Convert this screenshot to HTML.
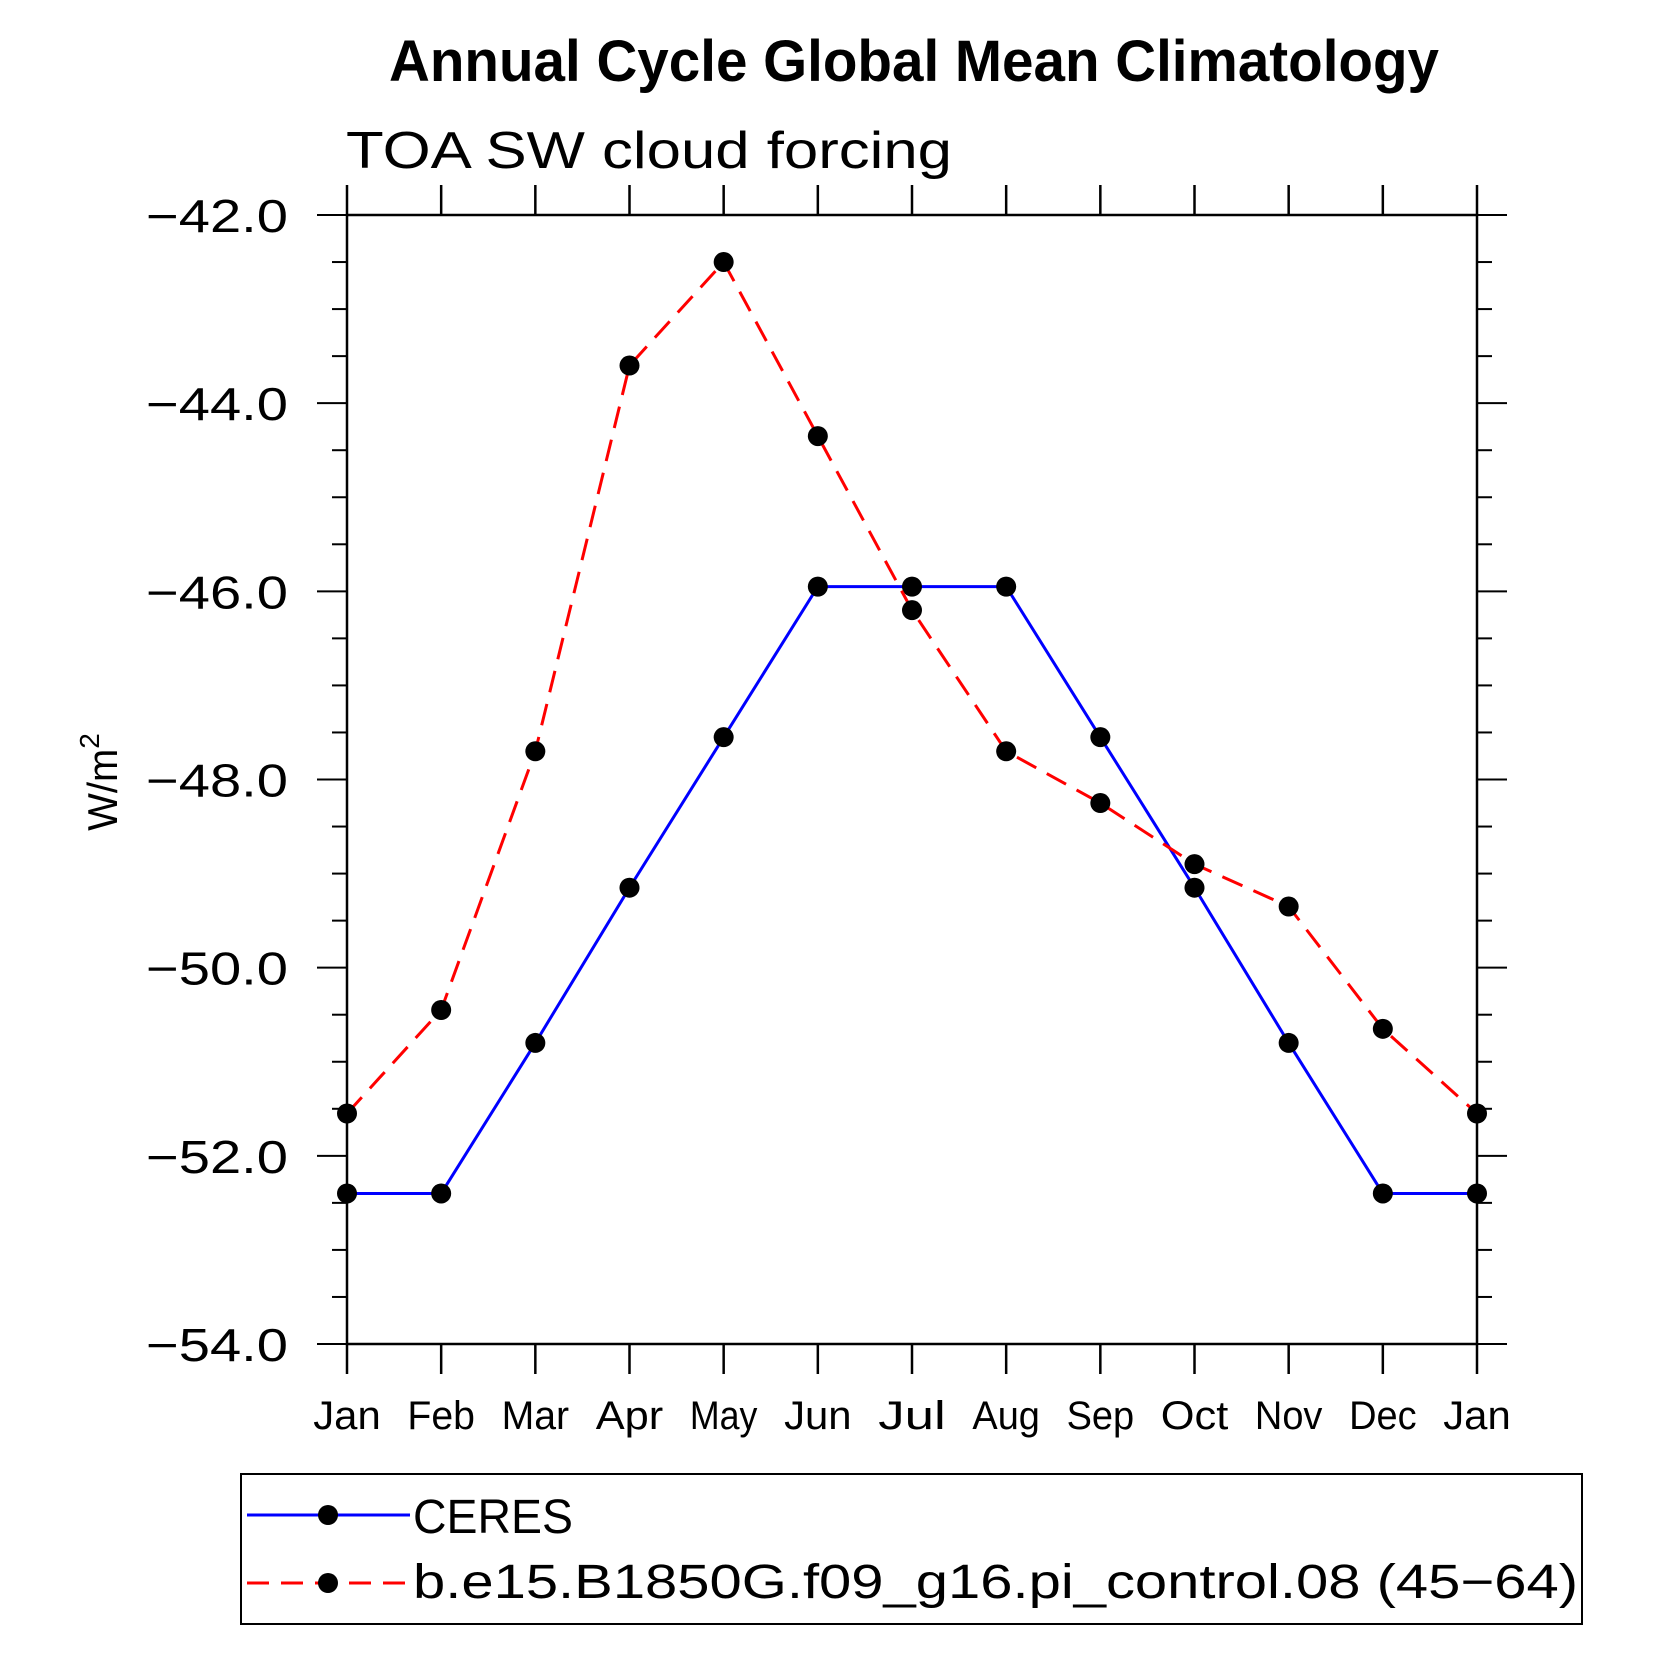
<!DOCTYPE html>
<html><head><meta charset="utf-8"><style>
html,body{margin:0;padding:0;background:#fff;}
svg{display:block;}
text{font-family:"Liberation Sans",sans-serif;fill:#000;}
</style></head><body>
<svg id="chart" width="1663" height="1663" viewBox="0 0 1663 1663">
<text x="914" y="81" text-anchor="middle" font-size="58" font-weight="bold" textLength="1050" lengthAdjust="spacingAndGlyphs">Annual Cycle Global Mean Climatology</text>
<text x="346" y="168" font-size="52" textLength="606" lengthAdjust="spacingAndGlyphs">TOA SW cloud forcing</text>
<text transform="translate(117,782) rotate(-90)" text-anchor="middle" font-size="42"><tspan textLength="82" lengthAdjust="spacingAndGlyphs">W/m</tspan><tspan dy="-18" font-size="28">2</tspan></text>
<g id="axes"></g>
<g id="series"></g>
<g id="legend">
<rect x="241" y="1474" width="1341" height="150" fill="none" stroke="#000" stroke-width="2"/>
<line x1="247" y1="1515" x2="410" y2="1515" stroke="#0000ff" stroke-width="3"/>
<circle cx="328" cy="1515" r="10" fill="#000"/>
<text x="413" y="1533" font-size="48" textLength="160" lengthAdjust="spacingAndGlyphs">CERES</text>
<line x1="247" y1="1583" x2="410" y2="1583" stroke="#ff0000" stroke-width="3" stroke-dasharray="22,12"/>
<circle cx="328" cy="1583" r="10" fill="#000"/>
<text x="413" y="1598" font-size="48" textLength="1165" lengthAdjust="spacingAndGlyphs">b.e15.B1850G.f09_g16.pi_control.08 (45−64)</text>
</g>
</svg>
<script>
const months = ["Jan","Feb","Mar","Apr","May","Jun","Jul","Aug","Sep","Oct","Nov","Dec","Jan"];
const ceresValues = [-52.4,-52.4,-50.8,-49.15,-47.55,-45.95,-45.95,-45.95,-47.55,-49.15,-50.8,-52.4,-52.4];
const modelValues = [-51.55,-50.45,-47.7,-43.6,-42.5,-44.35,-46.2,-47.7,-48.25,-48.9,-49.35,-50.65,-51.55];
const yTickLabels = ["−42.0","−44.0","−46.0","−48.0","−50.0","−52.0","−54.0"];
const yTickValues = [-42,-44,-46,-48,-50,-52,-54];

const L=347,R=1477,T=215,B=1344,yMin=-54,yMax=-42;
const NS="http://www.w3.org/2000/svg";
function xs(i){return L+(R-L)*i/(months.length-1);}
function ys(v){return B-(v-yMin)/(yMax-yMin)*(B-T);}
function mk(tag,attrs,parent){const e=document.createElementNS(NS,tag);for(const k in attrs)e.setAttribute(k,attrs[k]);parent.appendChild(e);return e;}
const axes=document.getElementById('axes');
const frame=mk('rect',{x:L,y:T,width:R-L,height:B-T,fill:'none',stroke:'#000','stroke-width':2.5},axes);


months.forEach((m,i)=>{
  const x=xs(i);
  const t1=mk('line',{x1:x,y1:B,x2:x,y2:B+30,stroke:'#000','stroke-width':2.5},axes);
  
  
  const t2=mk('line',{x1:x,y1:T,x2:x,y2:T-30,stroke:'#000','stroke-width':2.5},axes);
  
  
  const lb=mk('text',{x:x,y:1429,'text-anchor':'middle','font-size':40,textLength:m.length*22.5,lengthAdjust:'spacingAndGlyphs'},axes);
  lb.textContent=m;
  
  
});
for(let v=yMin;v<=yMax+1e-9;v+=0.5){
  const y=ys(v);
  const major=Math.abs(v-Math.round(v/2)*2)<1e-9;
  const len=major?30:15;
  const a=mk('line',{x1:L-len,y1:y,x2:L,y2:y,stroke:'#000','stroke-width':2},axes);
  
  
  const b=mk('line',{x1:R,y1:y,x2:R+len,y2:y,stroke:'#000','stroke-width':2},axes);
  
  
}
yTickValues.forEach((v,i)=>{
  const t=mk('text',{x:288,y:ys(v)+17,'text-anchor':'end','font-size':46,textLength:142,lengthAdjust:'spacingAndGlyphs'},axes);
  t.textContent=yTickLabels[i];
  
  
});
const series=document.getElementById('series');
function drawSeries(vals,color,dash,name){
  const pts=vals.map((v,i)=>xs(i)+','+ys(v)).join(' ');
  const pl=mk('polyline',{points:pts,fill:'none',stroke:color,'stroke-width':3},series);
  if(dash)pl.setAttribute('stroke-dasharray',dash);
  
  
  vals.forEach((v,i)=>{
    const c=mk('circle',{cx:xs(i),cy:ys(v),r:10,fill:'#000'},series);
    
    
  });
}
drawSeries(ceresValues,'#0000ff',null,'ceres');
drawSeries(modelValues,'#ff0000','22,12','model');
</script>
</body></html>
